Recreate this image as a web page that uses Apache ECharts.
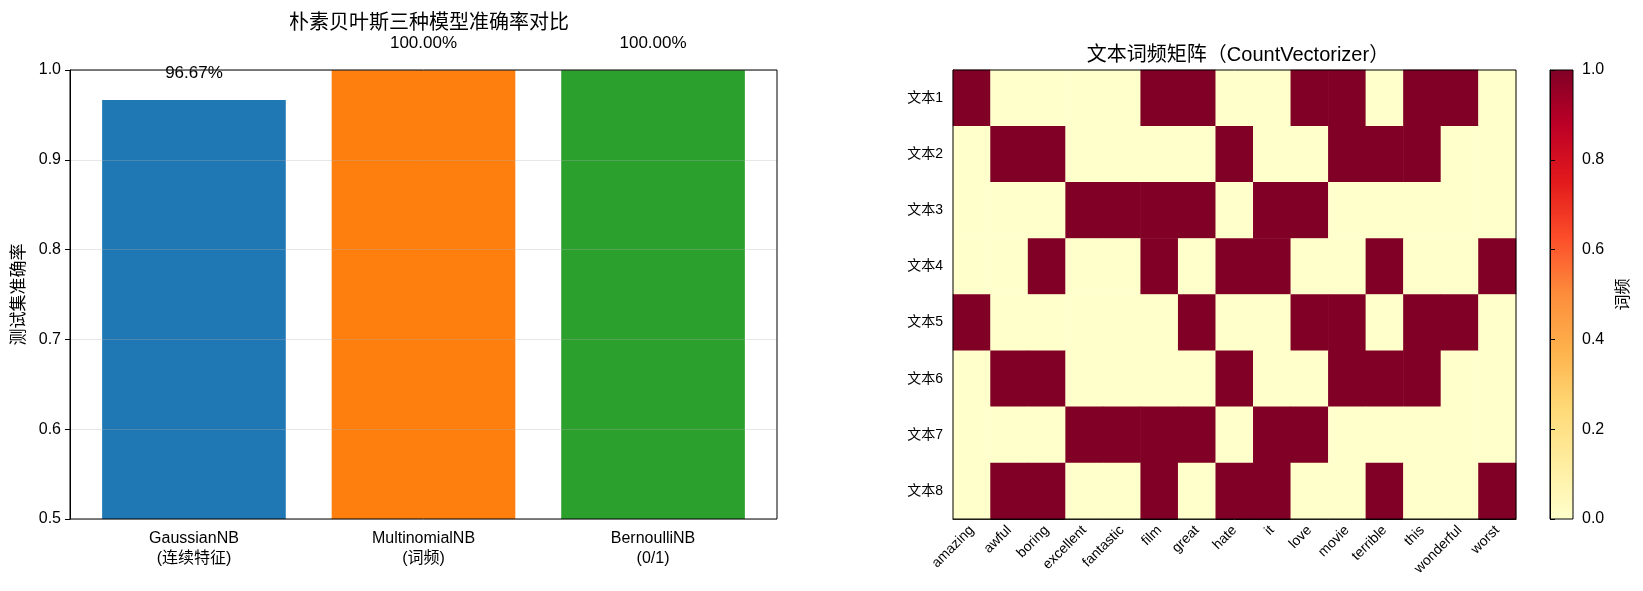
<!DOCTYPE html>
<html>
	<head>
		<title>Naive Bayes comparison</title>
		<meta http-equiv="content-type" content="text/html; charset=UTF-8">
		<script src="https://cdn.jsdelivr.net/npm/echarts@6/dist/echarts.min.js"></script>
		<style>
			html {height: 100%; width: 100%;}
			body {height: 100%; width: 100%; margin:0px; background:#fff;}
		</style>
	</head>
	<body>
		<div id="container" style="width:1643px;height:591px;"></div>
		<script>
			// bar chart data
			const modelNames = ['GaussianNB\n(连续特征)', 'MultinomialNB\n(词频)', 'BernoulliNB\n(0/1)'];
			const accuracy = [0.9667, 1.0, 1.0];
			const barColors = ['#1f77b4', '#ff7f0e', '#2ca02c'];

			// word count matrix
			const words = ['amazing', 'awful', 'boring', 'excellent', 'fantastic', 'film', 'great', 'hate', 'it', 'love', 'movie', 'terrible', 'this', 'wonderful', 'worst'];
			const docs = ['文本1', '文本2', '文本3', '文本4', '文本5', '文本6', '文本7', '文本8'];
			const counts = [
				[1,0,0,0,0,1,1,0,0,1,1,0,1,1,0],
				[0,1,1,0,0,0,0,1,0,0,1,1,1,0,0],
				[0,0,0,1,1,1,1,0,1,1,0,0,0,0,0],
				[0,0,1,0,0,1,0,1,1,0,0,1,0,0,1],
				[1,0,0,0,0,0,1,0,0,1,1,0,1,1,0],
				[0,1,1,0,0,0,0,1,0,0,1,1,1,0,0],
				[0,0,0,1,1,1,1,0,1,1,0,0,0,0,0],
				[0,1,1,0,0,1,0,1,1,0,0,1,0,0,1]
			];
			const ylOrRd = ['#ffffcc', '#ffeda0', '#fed976', '#feb24c', '#fd8d3c', '#fc4e2a', '#e31a1c', '#bd0026', '#800026'];

			const font = '"Liberation Sans", "Noto Sans CJK SC", sans-serif';

			let heatData = [];
			counts.forEach(function (row, i) {
				row.forEach(function (v, j) {
					heatData.push([j, i, v]);
				});
			});

			let stops = ylOrRd.map(function (c, i) {
				return { offset: 1 - i / (ylOrRd.length - 1), color: c };
			});

			// bar axes frame is a bit wider than the 3 categories (matplotlib margins)
			const frameLeft = 70, frameWidth = 707;
			const pad = frameWidth * 0.04 / 3.08;

			let chart = echarts.init(document.getElementById('container'));
			let option = {
				textStyle: { fontFamily: font, color: '#000' },
				animation: false,
				title: [
					{ text: '朴素贝叶斯三种模型准确率对比', left: 424, top: 8, textAlign: 'center',
						textStyle: { fontSize: 20, fontWeight: 'normal', fontFamily: font, color: '#000' } },
					{ text: '文本词频矩阵（CountVectorizer）', left: 1233, top: 40, textAlign: 'center',
						textStyle: { fontSize: 20, fontWeight: 'normal', fontFamily: font, color: '#000' } }
				],
				grid: [
					{ left: frameLeft, top: 70, width: frameWidth, height: 449, show: true, borderColor: '#000', borderWidth: 1, z: 10 },
					{ left: frameLeft + pad, top: 70, width: frameWidth - 2 * pad, height: 449 },
					{ left: 953, top: 70, width: 563, height: 449, show: true, borderColor: '#000', borderWidth: 1, z: 10 },
					{ left: 1550, top: 70, width: 23, height: 449, show: true, borderColor: '#000', borderWidth: 1,
						backgroundColor: new echarts.graphic.LinearGradient(0, 0, 0, 1, stops) }
				],
				xAxis: [
					{ type: 'value', gridIndex: 0, show: false },
					{ type: 'category', gridIndex: 1, data: modelNames,
						axisLine: { show: false },
						axisTick: { alignWithLabel: true, length: 5, lineStyle: { color: '#000' } },
						axisLabel: { color: '#000', fontSize: 16, lineHeight: 20, margin: 10 } },
					{ type: 'category', gridIndex: 2, data: words,
						axisLine: { lineStyle: { color: '#000' } },
						axisTick: { alignWithLabel: true, length: 5, lineStyle: { color: '#000' } },
						axisLabel: { color: '#000', fontSize: 14, rotate: 45, margin: 9, interval: 0 },
						splitLine: { show: false } },
					{ type: 'value', gridIndex: 3, show: false }
				],
				yAxis: [
					{ type: 'value', gridIndex: 0, min: 0.5, max: 1.0, interval: 0.1, z: 5,
						name: '测试集准确率', nameLocation: 'middle', nameGap: 42, nameRotate: 90,
						nameTextStyle: { fontSize: 17, color: '#000' },
						axisLine: { show: true, lineStyle: { color: '#000' } },
						axisTick: { show: true, length: 5, lineStyle: { color: '#000' } },
						axisLabel: { color: '#000', fontSize: 16, margin: 9, formatter: function (v) { return v.toFixed(1); } },
						splitLine: { show: true, lineStyle: { color: '#b0b0b0', opacity: 0.3 } } },
					{ type: 'value', gridIndex: 1, min: 0.5, max: 1.0, show: false },
					{ type: 'category', gridIndex: 2, data: docs, inverse: true,
						axisLine: { lineStyle: { color: '#000' } },
						axisTick: { alignWithLabel: true, length: 5, lineStyle: { color: '#000' } },
						axisLabel: { color: '#000', fontSize: 14, margin: 10 },
						splitLine: { show: false } },
					{ type: 'value', gridIndex: 3, position: 'right', min: 0, max: 1, interval: 0.2,
						name: '词频', nameLocation: 'middle', nameGap: 43, nameRotate: 90,
						nameTextStyle: { fontSize: 16, color: '#000' },
						axisLine: { show: true, lineStyle: { color: '#000' } },
						axisTick: { show: true, length: 5, lineStyle: { color: '#000' } },
						axisLabel: { color: '#000', fontSize: 16, margin: 9, formatter: function (v) { return v.toFixed(1); } },
						splitLine: { show: false } }
				],
				visualMap: {
					show: false, min: 0, max: 1, seriesIndex: 1,
					inRange: { color: ylOrRd }
				},
				series: [
					{ type: 'bar', xAxisIndex: 1, yAxisIndex: 1, barWidth: '80%',
						data: accuracy.map(function (v, i) {
							return { value: v, itemStyle: { color: barColors[i] } };
						}),
						label: { show: true, position: 'top', distance: 18, fontSize: 17, color: '#000',
							formatter: function (p) { return (p.value * 100).toFixed(2) + '%'; } } },
					{ type: 'heatmap', xAxisIndex: 2, yAxisIndex: 2, data: heatData,
						itemStyle: { borderWidth: 0 } }
				]
			};
			chart.setOption(option);
		</script>
	</body>
</html>
